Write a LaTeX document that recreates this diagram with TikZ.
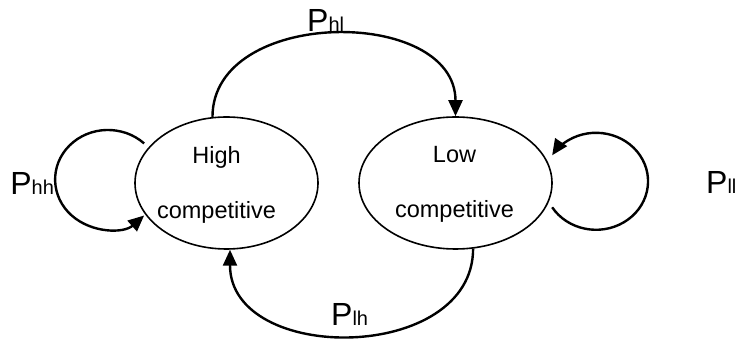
\documentclass[tikz,border=0pt]{standalone}
\usepackage{fontspec}
\setmainfont{Liberation Sans}
\usetikzlibrary{shapes.geometric,arrows.meta}
% smaller letters of a transition probability
\newcommand\probsub[1]{{\fontsize{20}{24}\selectfont #1}}
\begin{document}
\begin{tikzpicture}[x=1pt,y=1pt,
  state/.style={ellipse, draw, line width=1.6pt, inner sep=0pt, minimum height=132pt},
  statetext/.style={align=center, inner sep=0pt, font=\fontsize{23.5}{55}\selectfont},
  trans/.style={line width=2.4pt, -{Triangle[length=16pt,width=14pt]}},
  prob/.style={anchor=base west, inner sep=0pt, font=\fontsize{32}{38}\selectfont}]
  \fill[white] (0,0) rectangle (741,339);
  \useasboundingbox (0,0) rectangle (741,339);

  % the two states
  \node[state, minimum width=183pt] (hi) at (226.5,156) {};
  \node[state, minimum width=193pt] (lo) at (455.5,156) {};
  \node[statetext] (hitext) at ([xshift=-10pt,yshift=-1.5pt]hi.center) {High\\competitive};
  \node[statetext] (lotext) at ([xshift=-1pt,yshift=-1.5pt]lo.center) {Low\\competitive};

  % transitions between the states
  \draw[trans] (hi.102) .. controls +(0,110) and +(0,110) .. (lo.north);
  \draw[trans] (lo.-75) .. controls +(0,-115) and +(0,-115) .. (hi.-87);

  % self loops, drawn as elliptic arcs beside each state
  \draw[trans] ([xshift=-8pt]hi.152) arc[start angle=46.7, end angle=313.3, x radius=52.8, y radius=49.5];
  \draw[trans] ([xshift=6pt]lo.-15) arc[start angle=212.4, end angle=507.6, x radius=52, y radius=48.5];

  % transition probabilities
  \node[prob] (phh) at (10.2,144) {P\probsub{hh}};
  \node[prob] (phl) at (307,307.5) {P\probsub{hl}};
  \node[prob] (plh) at (331,13) {P\probsub{lh}};
  \node[prob] (pll) at (706,145.7) {P\probsub{ll}};
\end{tikzpicture}
\end{document}
